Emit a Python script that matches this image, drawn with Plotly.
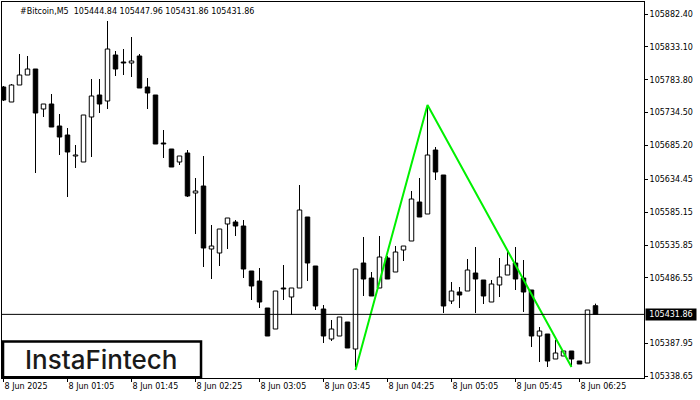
import plotly.graph_objects as go

# ---- data ----
opens = [
    105772.9, 105750.4, 105775.9, 105790.9, 105799.9, 105739.9, 105747.4, 105714.4, 105700.9, 105669.4,
    105660.4, 105727.9, 105760.9, 105751.9, 105820.9, 105810.4, 105808.9, 105819.4, 105772.9, 105760.9,
    105688.9, 105679.9, 105660.4, 105673.9, 105613.9, 105624.4, 105529.9, 105523.9, 105567.4, 105570.4,
    105564.4, 105496.9, 105481.9, 105441.4, 105409.9, 105471.4, 105457.9, 105471.4, 105577.9, 105504.4,
    105439.9, 105394.9, 105399.4, 105420.4, 105379.9, 105508.9, 105486.4, 105471.4, 105516.4, 105495.4,
    105528.4, 105541.9, 105600.4, 105582.4, 105678.4, 105640.9, 105451.9, 105465.4, 105466.9, 105493.9,
    105483.4, 105450.4, 105475.9, 105490.9, 105508.9, 105486.4, 105468.4, 105399.4, 105402.4, 105364.9,
    105369.4, 105376.9, 105361.9, 105358.9, 105444.84]

highs = [
    105774.4, 105777.4, 105822.4, 105819.4, 105799.9, 105747.4, 105762.4, 105732.4, 105711.4, 105685.9,
    105730.9, 105784.9, 105784.9, 105871.9, 105826.9, 105829.9, 105847.9, 105822.4, 105786.4, 105760.9,
    105708.4, 105679.9, 105669.4, 105678.4, 105636.4, 105669.4, 105565.9, 105559.9, 105576.4, 105573.4,
    105573.4, 105496.9, 105501.4, 105441.4, 105466.9, 105505.9, 105471.4, 105625.9, 105577.9, 105504.4,
    105445.9, 105423.4, 105427.9, 105420.4, 105499.9, 105547.9, 105495.4, 105549.4, 105519.4, 105534.4,
    105534.4, 105616.9, 105636.4, 105745.9, 105682.9, 105640.9, 105480.4, 105472.9, 105514.9, 105532.9,
    105483.4, 105483.4, 105516.4, 105525.4, 105532.9, 105513.4, 105468.4, 105412.9, 105402.4, 105393.4,
    105376.9, 105376.9, 105361.9, 105438.4, 105447.96]

lows = [
    105751.9, 105750.4, 105775.9, 105790.9, 105643.9, 105727.9, 105712.9, 105670.9, 105607.9, 105651.4,
    105660.4, 105667.9, 105733.9, 105739.9, 105789.4, 105790.9, 105787.9, 105771.4, 105739.9, 105687.4,
    105666.4, 105652.9, 105655.9, 105607.9, 105552.4, 105502.9, 105484.9, 105504.4, 105529.9, 105549.4,
    105486.4, 105453.4, 105441.4, 105399.4, 105409.9, 105453.4, 105430.9, 105471.4, 105481.9, 105438.4,
    105388.9, 105391.9, 105399.4, 105381.4, 105352.9, 105459.4, 105459.4, 105471.4, 105484.9, 105495.4,
    105511.9, 105541.9, 105577.9, 105582.4, 105633.4, 105433.9, 105447.4, 105441.4, 105466.9, 105433.9,
    105447.4, 105450.4, 105457.9, 105490.9, 105468.4, 105435.4, 105382.9, 105360.4, 105352.9, 105364.9,
    105369.4, 105352.9, 105357.4, 105358.9, 105431.86]

closes = [
    105753.4, 105775.9, 105790.9, 105799.9, 105733.9, 105747.4, 105712.9, 105697.9, 105675.4, 105670.9,
    105730.9, 105759.4, 105747.4, 105829.9, 105799.9, 105808.9, 105811.9, 105771.4, 105763.9, 105687.4,
    105687.4, 105652.9, 105669.4, 105609.4, 105616.9, 105531.4, 105534.4, 105559.9, 105576.4, 105564.4,
    105499.9, 105474.4, 105450.4, 105399.4, 105466.9, 105469.9, 105471.4, 105588.4, 105508.9, 105444.4,
    105399.4, 105409.9, 105427.9, 105381.4, 105499.9, 105484.9, 105459.4, 105517.9, 105484.9, 105525.4,
    105534.4, 105604.9, 105577.9, 105670.9, 105645.4, 105444.4, 105466.9, 105460.9, 105498.4, 105484.9,
    105459.4, 105477.4, 105487.9, 105505.9, 105484.9, 105465.4, 105399.4, 105406.9, 105361.9, 105373.9,
    105376.9, 105364.9, 105357.4, 105438.4, 105431.86]

x_tick_idx = [0, 8, 16, 24, 32, 40, 48, 56, 64, 72]
x_tick_text = ["8 Jun 2025", "8 Jun 01:05", "8 Jun 01:45", "8 Jun 02:25", "8 Jun 03:05",
               "8 Jun 03:45", "8 Jun 04:25", "8 Jun 05:05", "8 Jun 05:45", "8 Jun 06:25"]

y_tick_vals = [105882.40, 105833.10, 105783.80, 105734.50, 105685.20, 105634.45,
               105585.15, 105535.85, 105486.55, 105387.95, 105338.65]
y_tick_text = ["105882.40", "105833.10", "105783.80", "105734.50", "105685.20", "105634.45",
               "105585.15", "105535.85", "105486.55", "105387.95", "105338.65"]

pattern_idx = [44, 53, 71]
pattern_price = [105348.4, 105745.9, 105352.9]

current_price = 105431.86
title_text = "#Bitcoin,M5  105444.84 105447.96 105431.86 105431.86"

# ---- figure ----
n = len(opens)
idx = list(range(n))
bull = [i for i in idx if closes[i] >= opens[i]]
bear = [i for i in idx if closes[i] < opens[i]]

wx, wy = [], []
for i in idx:
    top = max(opens[i], closes[i])
    bot = min(opens[i], closes[i])
    if highs[i] > top:
        wx += [i, i, None]
        wy += [highs[i], top, None]
    if lows[i] < bot:
        wx += [i, i, None]
        wy += [bot, lows[i], None]

fig = go.Figure()
fig.add_trace(go.Bar(
    x=bull, base=[opens[i] for i in bull], y=[closes[i] - opens[i] for i in bull],
    width=0.56, marker=dict(color="white", line=dict(color="black", width=1)),
    hoverinfo="skip"))
fig.add_trace(go.Bar(
    x=bear, base=[closes[i] for i in bear], y=[opens[i] - closes[i] for i in bear],
    width=0.56, marker=dict(color="black", line=dict(color="black", width=1)),
    hoverinfo="skip"))
fig.add_trace(go.Scatter(x=wx, y=wy, mode="lines", line=dict(color="black", width=1),
                         hoverinfo="skip"))
fig.add_trace(go.Scatter(x=pattern_idx, y=pattern_price, mode="lines",
                         line=dict(color="#00f000", width=2), hoverinfo="skip"))

tick_font = dict(family="DejaVu Sans", size=8, color="black")

fig.update_layout(
    width=700, height=400,
    margin=dict(l=2, r=56, t=2, b=22),
    paper_bgcolor="white", plot_bgcolor="white",
    showlegend=False, hovermode=False, barmode="overlay",
    xaxis=dict(range=[-0.1875, 80.0625], showgrid=False, zeroline=False,
               showline=True, mirror=True, linecolor="black", linewidth=1,
               ticks="outside", ticklen=3, tickcolor="black",
               tickvals=x_tick_idx, ticktext=x_tick_text,
               ticklabelposition="outside right", tickfont=tick_font),
    yaxis=dict(range=[105336.4, 105900.4], side="right", showgrid=False, zeroline=False,
               showline=True, mirror=True, linecolor="black", linewidth=1,
               ticks="outside", ticklen=3, tickcolor="black",
               tickvals=y_tick_vals, ticktext=y_tick_text, tickfont=tick_font),
    shapes=[
        dict(type="line", xref="paper", x0=0, x1=1, yref="y", y0=current_price, y1=current_price,
             line=dict(color="black", width=1)),
        dict(type="rect", xref="paper", yref="paper", x0=0.0016, x1=0.31, y0=0.002, y1=0.097,
             line=dict(color="black", width=2.5), fillcolor="white", layer="above"),
    ],
    annotations=[
        dict(text=title_text, xref="paper", yref="paper", x=0.0249, y=0.976,
             xanchor="left", yanchor="middle", showarrow=False, font=tick_font),
        dict(text="InstaFintech", xref="paper", yref="paper", x=0.155, y=0.049,
             xanchor="center", yanchor="middle", showarrow=False,
             font=dict(family="Inter", size=26, color="#1a1a1a", weight=500)),
        dict(text="105431.86", xref="paper", yref="y", x=1, y=current_price, xanchor="left",
             yanchor="middle", xshift=1, showarrow=False, bgcolor="black", width=48, height=9,
             borderpad=1, font=dict(family="DejaVu Sans", size=8, color="white")),
    ],
)

fig.write_html("out.html", config={"displayModeBar": False},
               post_script="document.body.style.margin='0px';document.body.style.padding='0px';")
